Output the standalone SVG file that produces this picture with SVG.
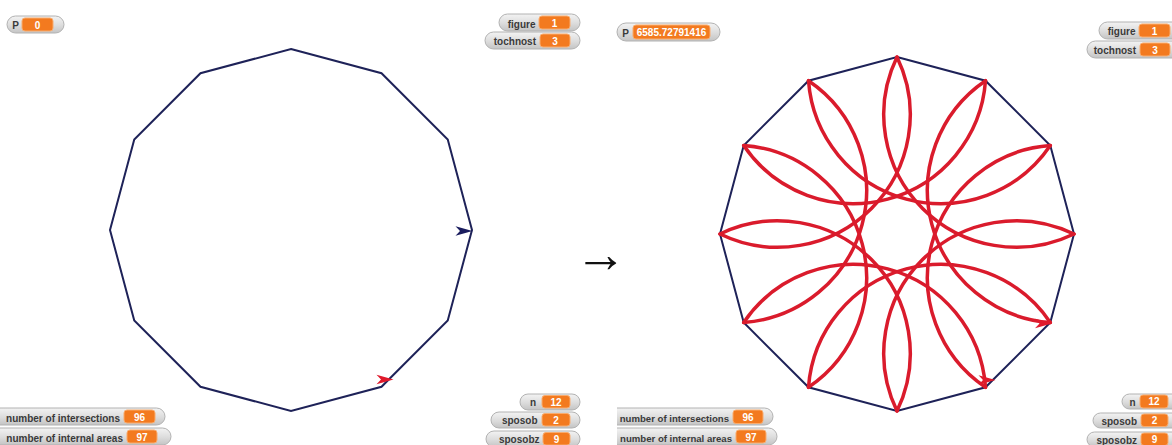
<svg xmlns="http://www.w3.org/2000/svg" width="1172" height="445" viewBox="0 0 1172 445">
<defs>
<linearGradient id="pillg" x1="0" y1="0" x2="0" y2="1">
<stop offset="0" stop-color="#f3f3f3"/>
<stop offset="0.55" stop-color="#dcdcdc"/>
<stop offset="1" stop-color="#c4c4c4"/>
</linearGradient>
<path id="turtle" d="M0,0 L-17,-4.8 L-12.5,0 L-17,4.8 Z"/>
<clipPath id="clipR"><rect x="617" y="0" width="555" height="445"/></clipPath>
</defs>
<style>
.pill{fill:url(#pillg);stroke:#b2b2b2;stroke-width:1}
.val{fill:#f37a1f;stroke:#f9ac6e;stroke-width:1}
.lbl{font-family:"Liberation Sans",Arial,sans-serif;font-size:10px;font-weight:bold;fill:#3a3a3a;text-anchor:end}
.lbls{font-family:"Liberation Sans",Arial,sans-serif;font-size:9.6px;font-weight:bold;fill:#3a3a3a;text-anchor:end}
.num{font-family:"Liberation Sans",Arial,sans-serif;font-size:10px;font-weight:bold;fill:#ffffff;text-anchor:middle}
.poly{fill:none;stroke:#1e2258;stroke-width:2;stroke-linejoin:miter}
.arc{fill:none;stroke:#da1b2c;stroke-width:3.5;stroke-linecap:round}
.tn{fill:#1a1c5e}
.tr{fill:#e01a2c}
</style>
<rect width="1172" height="445" fill="#ffffff"/>

<g id="left-stage">
<polygon id="left-polygon" class="poly" points="291,49 381.5,73.25 447.75,139.5 472,230 447.75,320.5 381.5,386.75 291,411 200.5,386.75 134.25,320.5 110,230 134.25,139.5 200.5,73.25"/>
<use id="left-turtle-navy" href="#turtle" class="tn" transform="translate(472.5,231)"/>
<use id="left-turtle-red" href="#turtle" class="tr" transform="translate(393.5,379.5)"/>
</g>

<g id="right-stage">
<polygon id="right-polygon" class="poly" points="897,57 985.5,80.71 1050.29,145.5 1074,234 1050.29,322.5 985.5,387.29 897,411 808.5,387.29 743.71,322.5 720,234 743.71,145.5 808.5,80.71"/>
<g id="red-arcs">
<path class="arc" d="M897,57 A132.5,132.5 0 0 0 1074,234"/>
<path class="arc" d="M808.5,80.71 A132.5,132.5 0 0 0 1050.29,145.5"/>
<path class="arc" d="M743.71,145.5 A132.5,132.5 0 0 0 985.5,80.71"/>
<path class="arc" d="M720,234 A132.5,132.5 0 0 0 897,57"/>
<path class="arc" d="M743.71,322.5 A132.5,132.5 0 0 0 808.5,80.71"/>
<path class="arc" d="M808.5,387.29 A132.5,132.5 0 0 0 743.71,145.5"/>
<path class="arc" d="M897,411 A132.5,132.5 0 0 0 720,234"/>
<path class="arc" d="M985.5,387.29 A132.5,132.5 0 0 0 743.71,322.5"/>
<path class="arc" d="M1050.29,322.5 A132.5,132.5 0 0 0 808.5,387.29"/>
<path class="arc" d="M1074,234 A132.5,132.5 0 0 0 897,411"/>
<path class="arc" d="M1050.29,145.5 A132.5,132.5 0 0 0 985.5,387.29"/>
<path class="arc" d="M985.5,80.71 A132.5,132.5 0 0 0 1050.29,322.5"/>
</g>
<use id="right-turtle-red-1" href="#turtle" class="tr" transform="translate(1052,323.5)"/>
<use id="right-turtle-red-2" href="#turtle" class="tr" transform="translate(995.5,380)"/>
</g>

<g id="connectors">
<text x="600.5" y="272" font-family="'Liberation Serif','DejaVu Serif',serif" font-size="52" fill="#111111" text-anchor="middle">→</text>
</g>

<!-- left stage watchers -->
<g id="w-left-P"><rect class="pill" x="7" y="16" width="57" height="17" rx="8.5"/><rect class="val" x="22" y="18" width="31" height="13" rx="3"/><text class="lbl" x="19" y="29">P</text><text class="num" x="37.5" y="28.5">0</text></g>
<g id="w-left-figure"><rect class="pill" x="499" y="14" width="81" height="17" rx="8.5"/><rect class="val" x="539" y="16" width="31" height="13" rx="3"/><text class="lbl" x="535.5" y="27.5">figure</text><text class="num" x="554.5" y="26.5">1</text></g>
<g id="w-left-tochnost"><rect class="pill" x="485" y="32" width="95" height="17" rx="8.5"/><rect class="val" x="540" y="34" width="30" height="13" rx="3"/><text class="lbl" x="536" y="45">tochnost</text><text class="num" x="555" y="44.5">3</text></g>
<g id="w-left-intersections"><rect class="pill" x="-10" y="408" width="175" height="17" rx="8.5"/><rect class="val" x="124" y="410" width="31" height="13" rx="3"/><text class="lbl" x="120" y="421.5">number of intersections</text><text class="num" x="139.5" y="420.5">96</text></g>
<g id="w-left-areas"><rect class="pill" x="-10" y="428" width="181" height="17" rx="8.5"/><rect class="val" x="127" y="430" width="30" height="13" rx="3"/><text class="lbl" x="123" y="441.5">number of internal areas</text><text class="num" x="142" y="440.5">97</text></g>
<g id="w-left-n"><rect class="pill" x="520" y="394" width="60" height="16" rx="8"/><rect class="val" x="542" y="395.5" width="28" height="12.5" rx="3"/><text class="lbl" x="536" y="406">n</text><text class="num" x="556" y="405.5">12</text></g>
<g id="w-left-sposob"><rect class="pill" x="491" y="412" width="89" height="16" rx="8"/><rect class="val" x="542" y="413.5" width="28" height="12.5" rx="3"/><text class="lbl" x="537.5" y="424">sposob</text><text class="num" x="556" y="423.5">2</text></g>
<g id="w-left-sposobz"><rect class="pill" x="486" y="431" width="94" height="16" rx="8"/><rect class="val" x="543" y="432.5" width="27" height="12.5" rx="3"/><text class="lbl" x="539.5" y="443">sposobz</text><text class="num" x="556.5" y="442.5">9</text></g>

<!-- right stage watchers -->
<g id="w-right-P"><rect class="pill" x="617" y="23" width="103" height="18" rx="9"/><rect class="val" x="633" y="25" width="77" height="14" rx="3"/><text class="lbl" x="629" y="36.5">P</text><text class="num" x="671.5" y="36">6585.72791416</text></g>
<g id="w-right-figure"><rect class="pill" x="1099" y="22" width="90" height="17" rx="8.5"/><rect class="val" x="1139" y="24" width="31" height="13" rx="3"/><text class="lbl" x="1135.5" y="35">figure</text><text class="num" x="1154.5" y="34.5">1</text></g>
<g id="w-right-tochnost"><rect class="pill" x="1087" y="41" width="100" height="17" rx="8.5"/><rect class="val" x="1140" y="43" width="30" height="13" rx="3"/><text class="lbl" x="1136" y="54">tochnost</text><text class="num" x="1155" y="53.5">3</text></g>
<g id="w-right-intersections" clip-path="url(#clipR)"><rect class="pill" x="600" y="408" width="173" height="17" rx="8.5"/><rect class="val" x="733" y="410" width="30" height="13.5" rx="3"/><text class="lbls" x="729" y="421.5">number of intersections</text><text class="num" x="748" y="420.8">96</text></g>
<g id="w-right-areas" clip-path="url(#clipR)"><rect class="pill" x="600" y="428" width="177" height="17" rx="8.5"/><rect class="val" x="736" y="430" width="30" height="13" rx="3"/><text class="lbls" x="732" y="441.5">number of internal areas</text><text class="num" x="751" y="440.5">97</text></g>
<g id="w-right-n"><rect class="pill" x="1122" y="394" width="60" height="15" rx="7.5"/><rect class="val" x="1140" y="395" width="28" height="13" rx="3"/><text class="lbl" x="1135.5" y="405.5">n</text><text class="num" x="1154" y="405">12</text></g>
<g id="w-right-sposob"><rect class="pill" x="1093" y="413" width="90" height="15" rx="7.5"/><rect class="val" x="1141" y="414" width="27" height="12.5" rx="3"/><text class="lbl" x="1137" y="424.5">sposob</text><text class="num" x="1154.5" y="424">2</text></g>
<g id="w-right-sposobz"><rect class="pill" x="1087" y="432" width="95" height="15" rx="7.5"/><rect class="val" x="1141" y="433" width="27" height="12.5" rx="3"/><text class="lbl" x="1137" y="443.5">sposobz</text><text class="num" x="1154.5" y="443">9</text></g>
</svg>
